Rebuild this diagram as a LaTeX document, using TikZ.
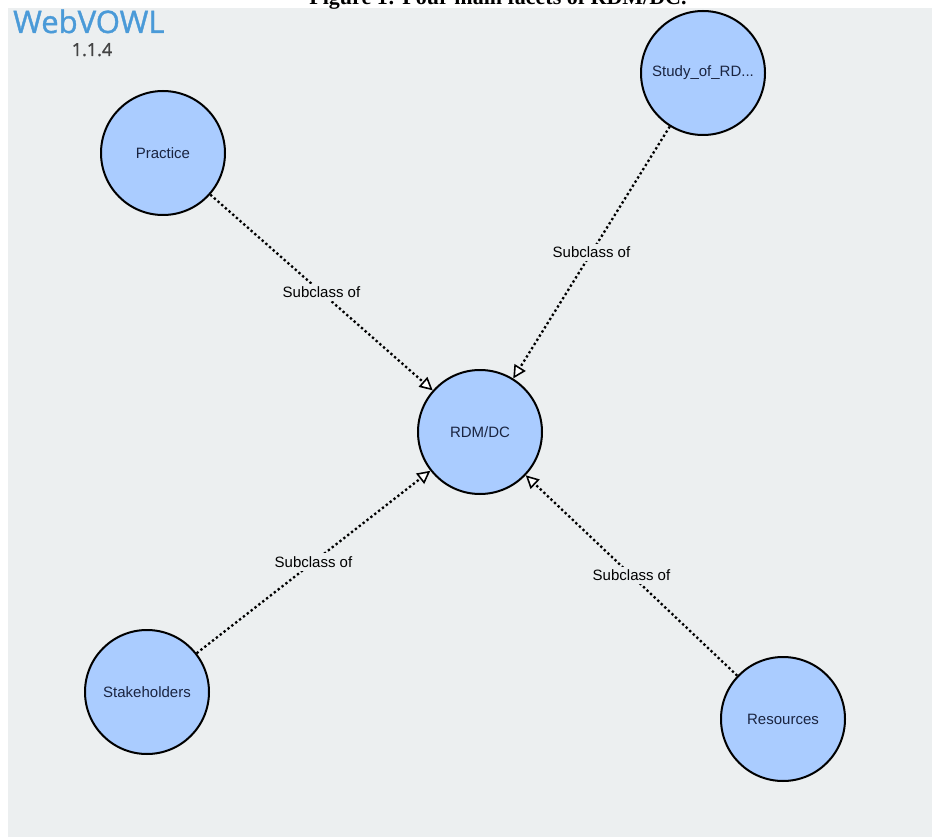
\documentclass[tikz,border=0pt]{standalone}
\usepackage{fontspec}
\setmainfont{Liberation Sans}
\newfontfamily\titlefont{Liberation Serif}
\newfontfamily\logofont[FakeBold=1.2]{Open Sans}
\usetikzlibrary{arrows.meta}
\definecolor{bgcol}{HTML}{ECEFF0}
\definecolor{classfill}{HTML}{AACCFF}
\definecolor{classtext}{HTML}{1A2440}
\definecolor{logoblue}{HTML}{4A9AD8}
\definecolor{versiongray}{HTML}{444444}
\tikzset{
  classnode/.style={circle, draw=black, line width=2pt, fill=classfill,
    minimum size=124pt, inner sep=0pt, text=classtext, font=\fontsize{15}{17}\selectfont},
  subedge/.style={line width=2.3pt, dash pattern=on 2.3pt off 2.6pt,
    -{Triangle[length=13pt, width=13pt, fill=white, line width=1.6pt]}},
  sublabel/.style={fill=bgcol, inner sep=3pt, text=black, font=\fontsize{15}{17}\selectfont}
}
\begin{document}
\begin{tikzpicture}[x=1pt, y=-1pt]
\useasboundingbox (0,0) rectangle (932,837);
\clip (0,0) rectangle (932,837);
\fill[white] (0,0) rectangle (932,837);
\fill[bgcol] (8,8) rectangle (932,837);
\node[anchor=base, font=\titlefont\bfseries\fontsize{22}{24}\selectfont] (title) at (498,5) {Figure 1: Four main facets of RDM/DC.};
\node[anchor=base west, text=logoblue, font=\logofont\fontsize{31}{33}\selectfont, inner sep=0pt] (logo) at (13,33) {WebVOWL};
\node[anchor=base, text=versiongray, font=\logofont\fontsize{18}{20}\selectfont, inner sep=0pt] (ver) at (92,56) {1.1.4};

\node[classnode] (rdm) at (480,432) {RDM/DC};
\node[classnode] (practice) at (163,153) {Practice};
\node[classnode] (study) at (703,73) {Study\_of\_RD...};
\node[classnode] (stake) at (147,692) {Stakeholders};
\node[classnode] (res) at (783,719) {Resources};

\draw[subedge] (practice) -- (rdm) node[midway, sublabel] (l1) {Subclass of};
\draw[subedge] (study) -- (rdm) node[midway, sublabel] (l2) {Subclass of};
\draw[subedge] (stake) -- (rdm) node[midway, sublabel] (l3) {Subclass of};
\draw[subedge] (res) -- (rdm) node[midway, sublabel] (l4) {Subclass of};
\end{tikzpicture}
\end{document}
